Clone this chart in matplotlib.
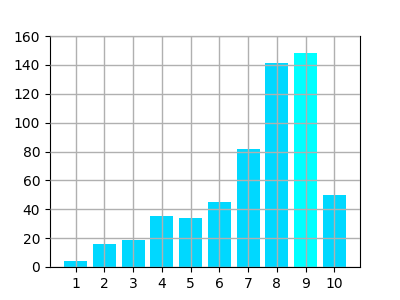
import matplotlib
matplotlib.use("Agg")
import matplotlib.pyplot as plt

# bar data
labels = [1, 2, 3, 4, 5, 6, 7, 8, 9, 10]
values = [4, 16, 19, 35.5, 34, 45, 82, 141.5, 148.5, 50]
colors = ['#00d8ff'] * 10
colors[8] = '#00ffff'

fig = plt.figure(figsize=(4, 3), dpi=100)
ax = fig.add_subplot(111)
ax.bar(labels, values, color=colors, width=0.8)
ax.set_xticks(labels)
ax.set_ylim(0, 160)
ax.set_yticks(range(0, 161, 20))
ax.grid(True, color='#b0b0b0', linewidth=1)
ax.set_axisbelow(False)

fig.savefig("out.png", dpi=100)
